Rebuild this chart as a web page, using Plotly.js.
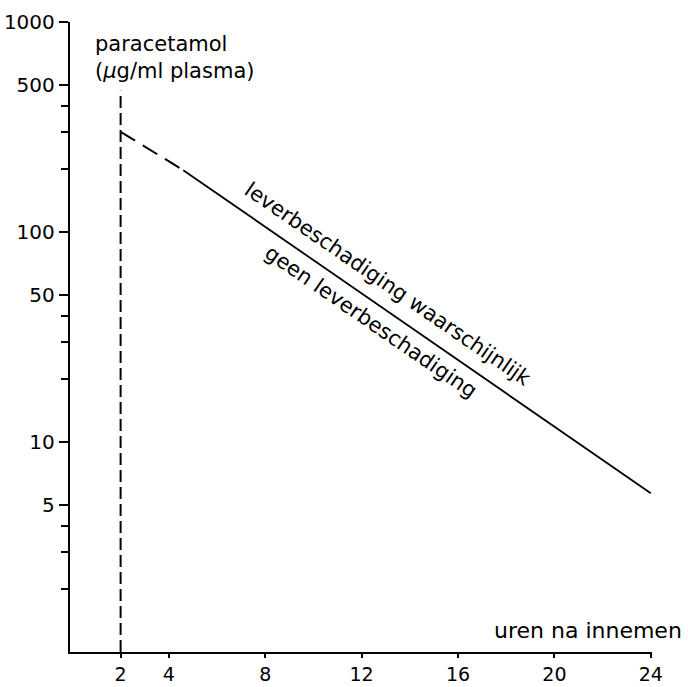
<!DOCTYPE html>
<html>
<head>
<meta charset="utf-8">
<script src="https://cdn.plot.ly/plotly-3.0.1.min.js"></script>
<style>html,body{margin:0;padding:0;background:#fff;}#chart{width:688px;height:687px;}</style>
</head>
<body>
<div id="chart"></div>
<script>
// Data
const xTickVals = [2, 4, 8, 12, 16, 20, 24];
const yTickVals = [5, 10, 50, 100, 500, 1000];
const yTickText = ["5", "10", "50", "100", "500", "1000"];
const yMinorVals = [2, 3, 4, 20, 30, 40, 200, 300, 400];

// time-of-ingestion marker (vertical dashed line at 2 h)
const markerX = [2, 2];
const markerY = [1, 470];

// treatment line: extrapolated (dashed) part and measured (solid) part
const dashedX = [2, 4.6];
const dashedY = [300, 197];
const solidX = [4.6, 24];
const solidY = [197, 5.7];

const FONT = "DejaVu Sans, sans-serif";

const traces = [
  {x: markerX, y: markerY, mode: "lines", line: {color: "#000", width: 2, dash: "12px,5px"}, hoverinfo: "skip", cliponaxis: false},
  {x: dashedX, y: dashedY, mode: "lines", line: {color: "#000", width: 2, dash: "17px,9px"}, hoverinfo: "skip", cliponaxis: false},
  {x: solidX, y: solidY, mode: "lines", line: {color: "#000", width: 1.8}, hoverinfo: "skip", cliponaxis: false}
];

const layout = {
  width: 688, height: 687,
  margin: {l: 70, r: 36, t: 22, b: 35, pad: 0},
  paper_bgcolor: "#fff", plot_bgcolor: "#fff",
  showlegend: false,
  font: {family: FONT, color: "#000", size: 20},
  xaxis: {
    range: [-0.1, 24.05],
    tickmode: "array", tickvals: xTickVals,
    showgrid: false, zeroline: false,
    showline: true, linecolor: "#000", linewidth: 2.2,
    ticks: "outside", ticklen: 4, tickwidth: 2, tickcolor: "#000",
    tickfont: {family: FONT, size: 19, color: "#000"}
  },
  yaxis: {
    type: "log", range: [0, 3],
    tickmode: "array", tickvals: yTickVals, ticktext: yTickText,
    showgrid: false, zeroline: false,
    showline: true, linecolor: "#000", linewidth: 2.2,
    ticks: "outside", ticklen: 9, tickwidth: 2, tickcolor: "#000",
    tickfont: {family: FONT, size: 20, color: "#000"},
    minor: {tickmode: "array", tickvals: yMinorVals, ticks: "outside", ticklen: 7, tickwidth: 2, tickcolor: "#000", showgrid: false}
  },
  annotations: [
    {text: "paracetamol<br>(<i>µ</i>g/ml plasma)", xref: "x", yref: "paper", x: 0.85, y: 0.988,
     xanchor: "left", yanchor: "top", align: "left", showarrow: false,
     font: {family: FONT, size: 21, color: "#000"}},
    {text: "uren na innemen", xref: "paper", yref: "paper", x: 1.055, y: 0.034,
     xanchor: "right", yanchor: "middle", showarrow: false,
     font: {family: FONT, size: 22, color: "#000"}},
    {text: "leverbeschadiging waarschijnlijk", xref: "x", yref: "y", x: 13.08, y: 1.752,
     xanchor: "center", yanchor: "middle", textangle: 34.5, showarrow: false,
     font: {family: FONT, size: 21, color: "#000"}},
    {text: "geen leverbeschadiging", xref: "x", yref: "y", x: 12.4, y: 1.572,
     xanchor: "center", yanchor: "middle", textangle: 34.5, showarrow: false,
     font: {family: FONT, size: 21, color: "#000"}}
  ]
};

Plotly.newPlot("chart", traces, layout, {staticPlot: true, displayModeBar: false});
</script>
</body>
</html>
